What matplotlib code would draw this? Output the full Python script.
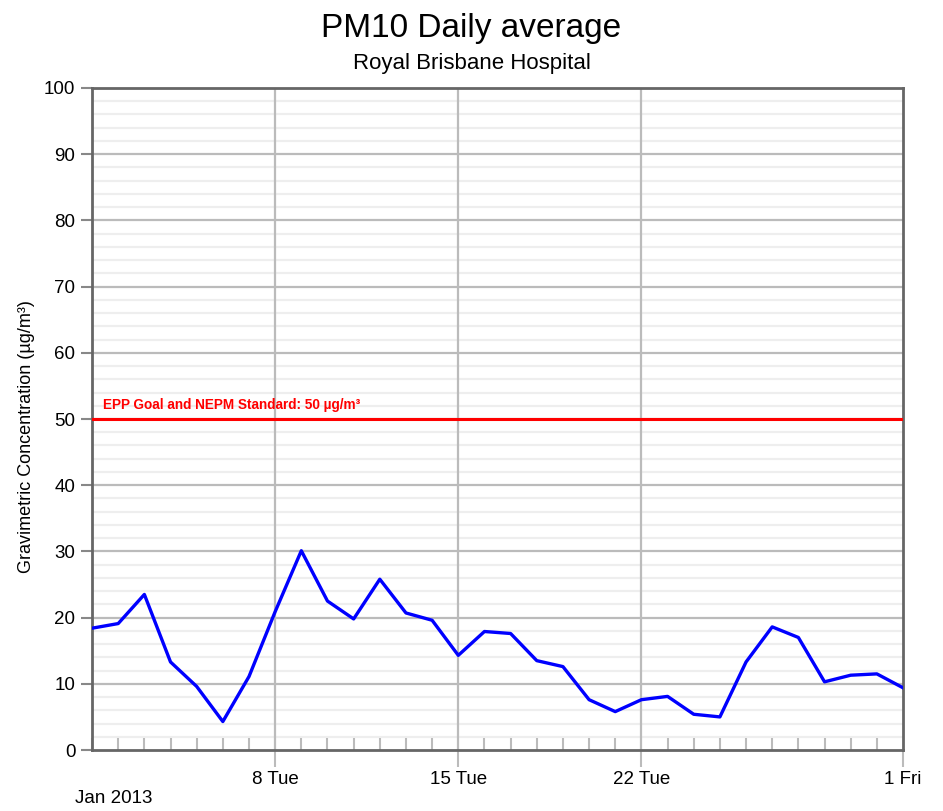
import datetime as dt
import matplotlib
matplotlib.use('Agg')
import matplotlib.pyplot as plt
import matplotlib.dates as mdates

plt.rcParams['font.family'] = ['Liberation Sans', 'DejaVu Sans']

# PM10 daily average, 1 Jan 2013 .. 1 Feb 2013
start = dt.date(2013, 1, 1)
pm10 = [18.4, 19.1, 23.5, 13.3, 9.6, 4.3, 11.1, 20.9, 30.1, 22.5, 19.8,
        25.8, 20.7, 19.6, 14.3, 17.9, 17.6, 13.5, 12.6, 7.6, 5.8, 7.6,
        8.1, 5.4, 5.0, 13.3, 18.6, 17.0, 10.3, 11.3, 11.5, 9.4]
dates = [start + dt.timedelta(days=i) for i in range(len(pm10))]

standard = 50
standard_label = 'EPP Goal and NEPM Standard: 50 µg/m³'
major_days = [dt.date(2013, 1, 8), dt.date(2013, 1, 15), dt.date(2013, 1, 22), dt.date(2013, 2, 1)]
major_labels = ['8 Tue', '15 Tue', '22 Tue', '1 Fri']

fig = plt.figure(figsize=(9.43, 8.11), dpi=100)
ax = fig.add_axes([0.0976, 0.0752, 0.86, 0.8163])

ax.set_xlim(dates[0], dates[-1])
ax.set_ylim(0, 100)

# grid
for y in range(2, 100, 2):
    if y % 10:
        ax.axhline(y, color='#eeeeee', lw=1.6, zorder=0)
for y in range(10, 100, 10):
    ax.axhline(y, color='#bbbbbb', lw=1.6, zorder=1)
for d in major_days[:-1]:
    ax.axvline(d, color='#bbbbbb', lw=1.6, zorder=1)

ax.plot(dates, pm10, color='#0000ff', lw=2.4, zorder=4)
ax.axhline(standard, color='#ff0000', lw=2.2, zorder=3)
ax.text(mdates.date2num(dates[0]) + 0.4, standard + 1.1, standard_label,
        color='#ff0000', fontsize=9.8, fontweight='bold', va='bottom', ha='left')

for s in ['left', 'bottom', 'right', 'top']:
    ax.spines[s].set_color('#666666')
    ax.spines[s].set_linewidth(2)

ax.set_yticks(range(0, 101, 10))
ax.tick_params(axis='y', length=8, width=1.5, color='#888888', labelsize=13.5, pad=4)

ax.set_xticks([mdates.date2num(d) for d in major_days])
ax.set_xticklabels(major_labels)
ax.tick_params(axis='x', which='major', length=12, width=1.5, color='#bbbbbb',
               labelsize=13.5, pad=3)
ax.set_xticks([mdates.date2num(d) for d in dates], minor=True)
ax.tick_params(axis='x', which='minor', direction='in', length=9, width=1.5, color='#bbbbbb')

ax.set_ylabel('Gravimetric Concentration (µg/m³)', fontsize=13)
ax.yaxis.set_label_coords(-0.070, 0.473)

fig.text(0.5, 0.965, 'PM10 Daily average', ha='center', va='center', fontsize=24)
fig.text(0.5, 0.922, 'Royal Brisbane Hospital', ha='center', va='center', fontsize=16)
fig.text(0.08, 0.016, 'Jan 2013', ha='left', va='center', fontsize=13.5)

fig.savefig('out.png', dpi=100)
